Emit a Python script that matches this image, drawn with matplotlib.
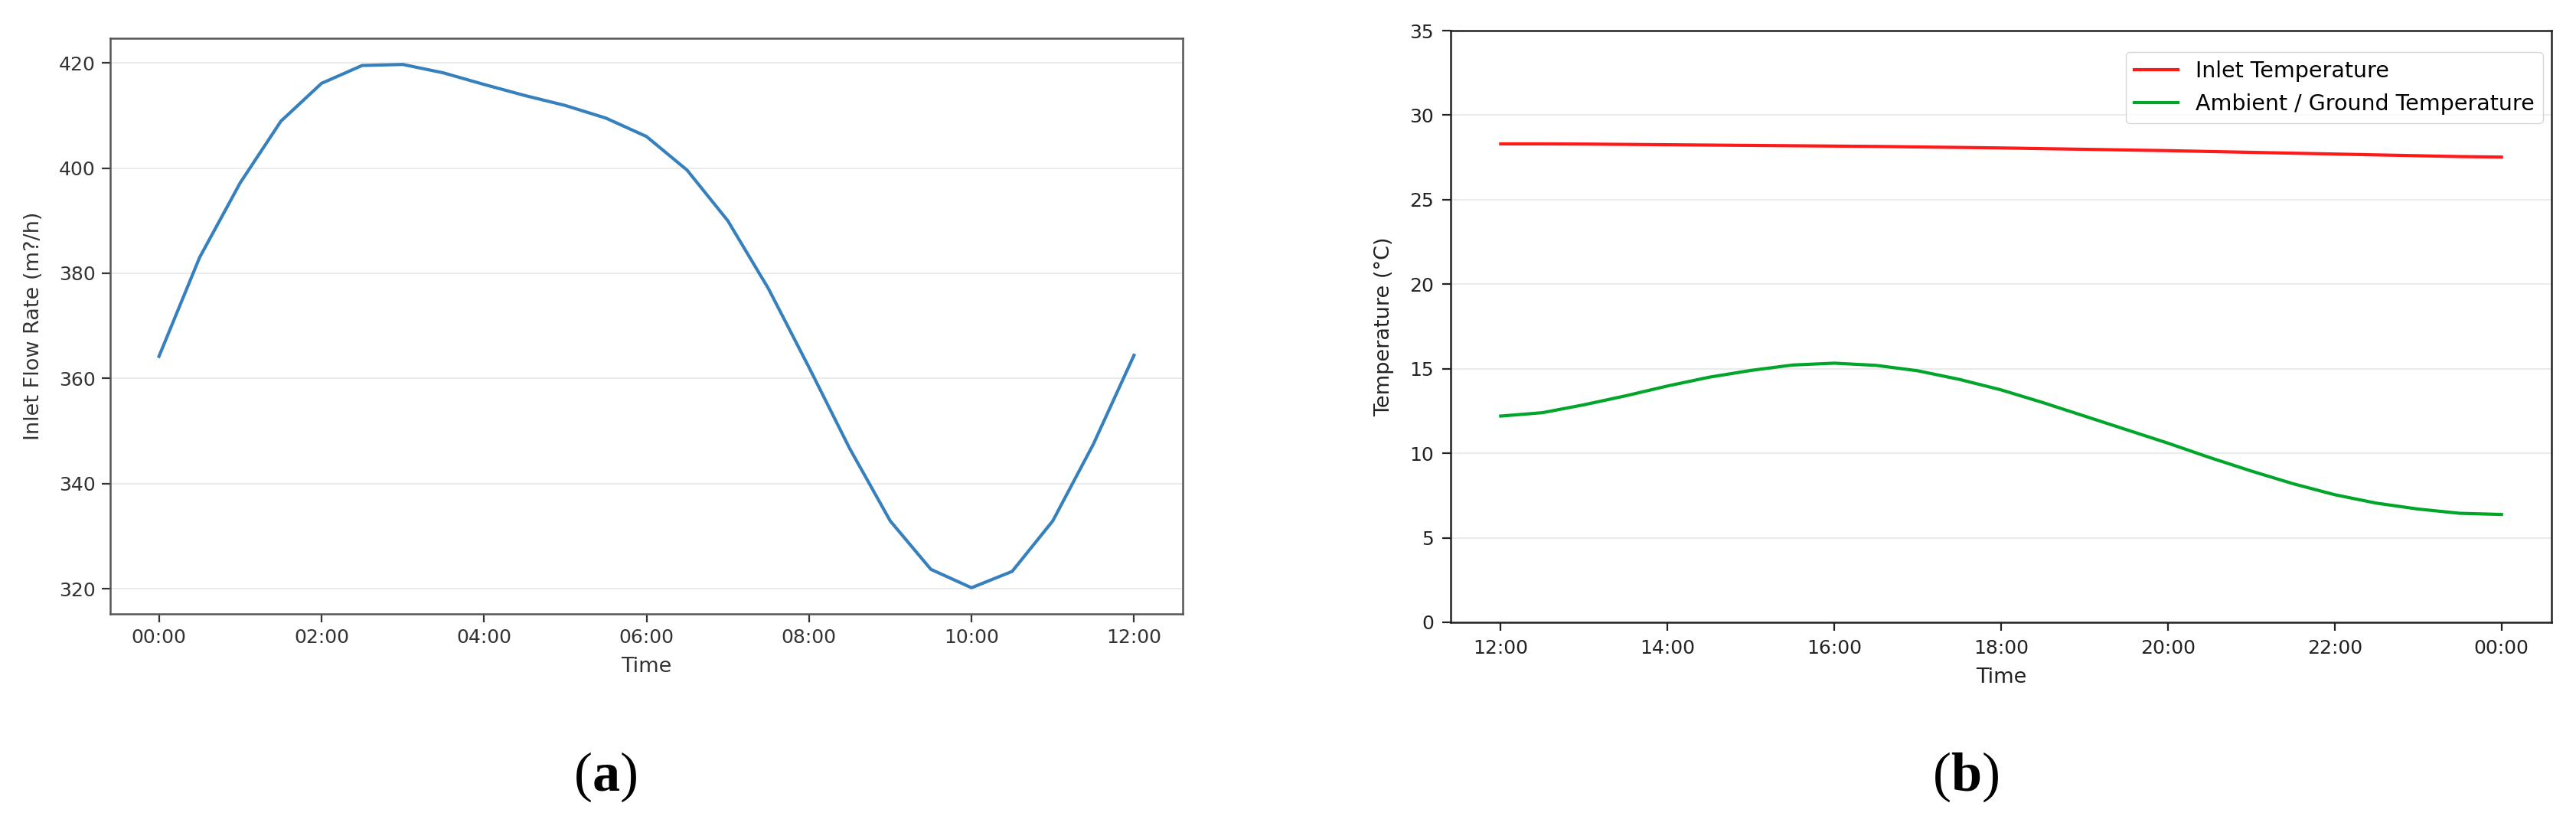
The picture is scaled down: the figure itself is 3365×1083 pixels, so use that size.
import matplotlib
matplotlib.use('Agg')
import matplotlib.pyplot as plt

# (a) inlet flow rate, half-hourly from 00:00 to 12:00
flow_hours = [0.0, 0.5, 1.0, 1.5, 2.0, 2.5, 3.0, 3.5, 4.0, 4.5, 5.0, 5.5, 6.0,
              6.5, 7.0, 7.5, 8.0, 8.5, 9.0, 9.5, 10.0, 10.5, 11.0, 11.5, 12.0]
flow_rate = [364.2, 383.0, 397.2, 408.9, 416.1, 419.5, 419.7, 418.1, 415.9, 413.8,
             411.9, 409.5, 406.0, 399.6, 390.0, 377.1, 362.1, 346.7, 332.9, 323.7,
             320.2, 323.3, 332.9, 347.5, 364.4]
flow_ticks = [0, 2, 4, 6, 8, 10, 12]
flow_tick_labels = ['00:00', '02:00', '04:00', '06:00', '08:00', '10:00', '12:00']

# (b) temperatures, half-hourly from 12:00 to 00:00
temp_hours = [12.0, 12.5, 13.0, 13.5, 14.0, 14.5, 15.0, 15.5, 16.0, 16.5, 17.0, 17.5, 18.0,
              18.5, 19.0, 19.5, 20.0, 20.5, 21.0, 21.5, 22.0, 22.5, 23.0, 23.5, 24.0]
inlet_temp = [28.30, 28.30, 28.29, 28.27, 28.25, 28.23, 28.21, 28.19, 28.17, 28.15,
              28.12, 28.09, 28.06, 28.02, 27.98, 27.94, 27.90, 27.85, 27.80, 27.75,
              27.70, 27.65, 27.60, 27.55, 27.52]
ground_temp = [12.20, 12.40, 12.87, 13.40, 13.98, 14.50, 14.90, 15.22, 15.33, 15.20,
               14.88, 14.37, 13.75, 13.00, 12.20, 11.40, 10.60, 9.75, 8.95, 8.20,
               7.55, 7.05, 6.70, 6.45, 6.38]
temp_ticks = [12, 14, 16, 18, 20, 22, 24]
temp_tick_labels = ['12:00', '14:00', '16:00', '18:00', '20:00', '22:00', '00:00']

plt.rcParams['font.family'] = 'DejaVu Sans'
plt.rcParams['mathtext.fontset'] = 'custom'
plt.rcParams['mathtext.rm'] = 'Liberation Serif'
plt.rcParams['mathtext.bf'] = 'Liberation Serif:bold'

W, H = 3365, 1083
fig = plt.figure(figsize=(W / 100, H / 100), dpi=100)

def px_axes(left, right, top, bottom):
    return fig.add_axes([left / W, 1 - bottom / H, (right - left) / W, (bottom - top) / H])

TICK_FS = 18
LABEL_FS = 19.5

# ---- (a) ----
ax1 = px_axes(144, 1545, 50, 802)
ax1.plot(flow_hours, flow_rate, color='#3580bd', lw=3.0)
ax1.set_xticks(flow_ticks)
ax1.set_xticklabels(flow_tick_labels)
ax1.set_yticks([320, 340, 360, 380, 400, 420])
ax1.set_xlabel('Time', fontsize=LABEL_FS, color='#333333', labelpad=9)
ax1.set_ylabel('Inlet Flow Rate (m?/h)', fontsize=LABEL_FS, color='#333333', labelpad=14)
ax1.grid(axis='y', color='#b0b0b0', alpha=0.25, lw=1.5)
ax1.tick_params(labelsize=TICK_FS, length=8, width=1.6, colors='#333333', pad=6)
for s in ax1.spines.values():
    s.set_color('#555555')
    s.set_linewidth(1.8)

# ---- (b) ----
ax2 = px_axes(1895, 3333, 40, 813)
ax2.plot(temp_hours, inlet_temp, color='#ff1a1a', lw=3.0, label='Inlet Temperature')
ax2.plot(temp_hours, ground_temp, color='#00a52a', lw=3.0, label='Ambient / Ground Temperature')
ax2.set_ylim(0, 35)
ax2.set_xticks(temp_ticks)
ax2.set_xticklabels(temp_tick_labels)
ax2.set_yticks([0, 5, 10, 15, 20, 25, 30, 35])
ax2.set_xlabel('Time', fontsize=LABEL_FS, color='#222222', labelpad=9)
ax2.set_ylabel('Temperature (°C)', fontsize=LABEL_FS, color='#222222', labelpad=14)
ax2.grid(axis='y', color='#b0b0b0', alpha=0.25, lw=1.5)
ax2.tick_params(labelsize=TICK_FS, length=8, width=1.6, colors='#222222', pad=8)
for s in ax2.spines.values():
    s.set_color('#222222')
    s.set_linewidth(1.8)
ax2.legend(loc='upper right', bbox_to_anchor=(0.9923, 0.9638), borderaxespad=0,
           fontsize=20.5, frameon=True, fancybox=True, edgecolor='#cccccc')

fig.text(791 / W, 1 - 1015 / H, r'$\mathrm{(}\mathbf{a}\mathrm{)}$', fontsize=52,
         ha='center', va='center')
fig.text(2568 / W, 1 - 1015 / H, r'$\mathrm{(}\mathbf{b}\mathrm{)}$', fontsize=52,
         ha='center', va='center')

fig.savefig('out.png', dpi=100)
